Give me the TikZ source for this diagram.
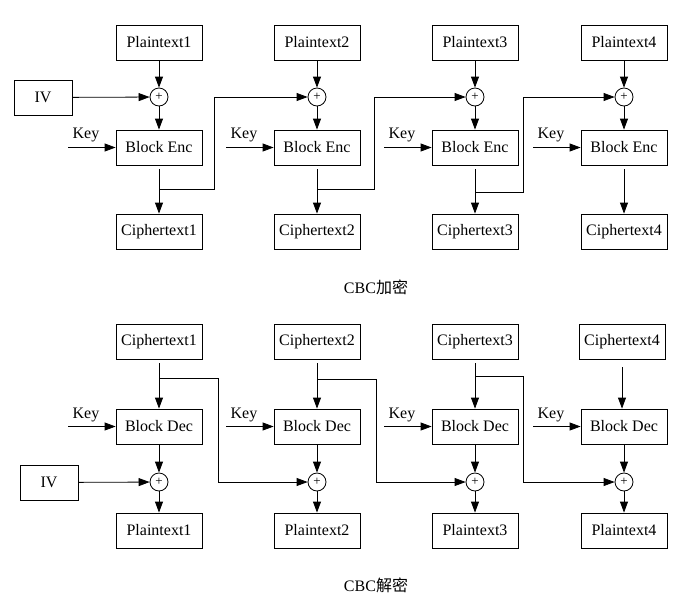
\documentclass[tikz,border=0pt]{standalone}
\usepackage{fontspec}
\setmainfont{Liberation Serif}
\newfontfamily\cjk{Noto Sans CJK SC}
\usetikzlibrary{arrows.meta}
\begin{document}
\begin{tikzpicture}[x=1pt,y=-1pt,inner sep=1mm,line width=0.8pt,
		font=\rmfamily\fontsize{16}{19}\selectfont,
		>={Triangle[length=11pt,width=8pt]},
		blk/.style={rectangle,draw,minimum width=86pt,minimum height=35pt},
		ivbox/.style={rectangle,draw,minimum width=58pt,minimum height=35pt},
		xor/.style={circle,draw,minimum size=18pt,inner sep=0pt,font=\fontsize{13}{13}\selectfont}]
		\useasboundingbox (0,0) rectangle (697,606);
%		encryption
		\node [ivbox] (iv) at (43,97.5) {IV};
		\node [blk] (p1) at (159,42.5) {Plaintext1};
		\node [blk] (p2) at (317,42.5) {Plaintext2};
		\node [blk] (p3) at (475,42.5) {Plaintext3};
		\node [blk] (p4) at (624,42.5) {Plaintext4};
		\node [xor] (x1) at (159,97) {+}
			edge [<-] (p1)
			edge [<-] (iv);
		\node [xor] (x2) at (317,97) {+}
			edge [<-] (p2);
		\node [xor] (x3) at (475,97) {+}
			edge [<-] (p3);
		\node [xor] (x4) at (624,97) {+}
			edge [<-] (p4);
		\node [blk] (e1) at (159,147.5) {Block Enc}
			edge [<-] (x1);
		\node [blk] (e2) at (317,147.5) {Block Enc}
			edge [<-] (x2);
		\node [blk] (e3) at (475,147.5) {Block Enc}
			edge [<-] (x3);
		\node [blk] (e4) at (624,147.5) {Block Enc}
			edge [<-] (x4);
		\node [blk] (c1) at (159,231.5) {Ciphertext1};
		\node [blk] (c2) at (317,231.5) {Ciphertext2};
		\node [blk] (c3) at (475,231.5) {Ciphertext3};
		\node [blk] (c4) at (624,231.5) {Ciphertext4};
		\draw [->] ([yshift=-4pt]e1.south) -- (c1);
		\draw [->] ([yshift=-4pt]e2.south) -- (c2);
		\draw [->] ([yshift=-4pt]e3.south) -- (c3);
		\draw [->] ([yshift=-4pt]e4.south) -- (c4);
		\node [] (k1) at (86,135) {Key};
		\node [] (k2) at (244,135) {Key};
		\node [] (k3) at (402,135) {Key};
		\node [] (k4) at (551,135) {Key};
		\coordinate (ks1) at (68,147.5);
		\coordinate (ks2) at (226,147.5);
		\coordinate (ks3) at (384,147.5);
		\coordinate (ks4) at (533,147.5);
		\draw [->] (ks1) -- (e1.west);
		\draw [->] (ks2) -- (e2.west);
		\draw [->] (ks3) -- (e3.west);
		\draw [->] (ks4) -- (e4.west);
		\coordinate (b1) at (159,189);
		\coordinate (b2) at (317,189);
		\coordinate (b3) at (475,192);
		\coordinate (t1) at (214,97);
		\coordinate (t2) at (374,97);
		\coordinate (t3) at (523,97);
		\draw [->] (b1) -| (t1) -- (x2);
		\draw [->] (b2) -| (t2) -- (x3);
		\draw [->] (b3) -| (t3) -- (x4);
		\node [] (enc) at (376,287) {CBC{\cjk 加密}};
%		decryption
		\node [blk] (dc1) at (159,341.5) {Ciphertext1};
		\node [blk] (dc2) at (317,341.5) {Ciphertext2};
		\node [blk] (dc3) at (475,341.5) {Ciphertext3};
		\node [blk] (dc4) at (622,341.5) {Ciphertext4};
		\node [blk] (d1) at (159,426.5) {Block Dec};
		\node [blk] (d2) at (317,426.5) {Block Dec};
		\node [blk] (d3) at (475,426.5) {Block Dec};
		\node [blk] (d4) at (624,426.5) {Block Dec};
		\draw [->] ([yshift=-4pt]dc1.south) -- (d1);
		\draw [->] ([yshift=-4pt]dc2.south) -- (d2);
		\draw [->] ([yshift=-4pt]dc3.south) -- (d3);
		\draw [->] ([yshift=-8pt]dc4.south) -- (dc4.south |- d4.north);
		\node [ivbox] (div) at (49,482.5) {IV};
		\node [xor] (y1) at (159,482) {+}
			edge [<-] (d1)
			edge [<-] (div);
		\node [xor] (y2) at (317,482) {+}
			edge [<-] (d2);
		\node [xor] (y3) at (475,482) {+}
			edge [<-] (d3);
		\node [xor] (y4) at (624,482) {+}
			edge [<-] (d4);
		\node [blk] (dp1) at (159,530.5) {Plaintext1}
			edge [<-] (y1);
		\node [blk] (dp2) at (317,530.5) {Plaintext2}
			edge [<-] (y2);
		\node [blk] (dp3) at (475,530.5) {Plaintext3}
			edge [<-] (y3);
		\node [blk] (dp4) at (624,530.5) {Plaintext4}
			edge [<-] (y4);
		\node [] (dk1) at (86,415) {Key};
		\node [] (dk2) at (244,415) {Key};
		\node [] (dk3) at (402,415) {Key};
		\node [] (dk4) at (551,415) {Key};
		\coordinate (dks1) at (68,426.5);
		\coordinate (dks2) at (226,426.5);
		\coordinate (dks3) at (384,426.5);
		\coordinate (dks4) at (533,426.5);
		\draw [->] (dks1) -- (d1.west);
		\draw [->] (dks2) -- (d2.west);
		\draw [->] (dks3) -- (d3.west);
		\draw [->] (dks4) -- (d4.west);
		\coordinate (db1) at (159,378);
		\coordinate (db2) at (317,379);
		\coordinate (db3) at (475,376);
		\coordinate (du1) at (218,482);
		\coordinate (du2) at (376,482);
		\coordinate (du3) at (523,482);
		\draw [->] (db1) -| (du1) -- (y2);
		\draw [->] (db2) -| (du2) -- (y3);
		\draw [->] (db3) -| (du3) -- (y4);
		\node [] (dec) at (376,585) {CBC{\cjk 解密}};
	\end{tikzpicture}
\end{document}
